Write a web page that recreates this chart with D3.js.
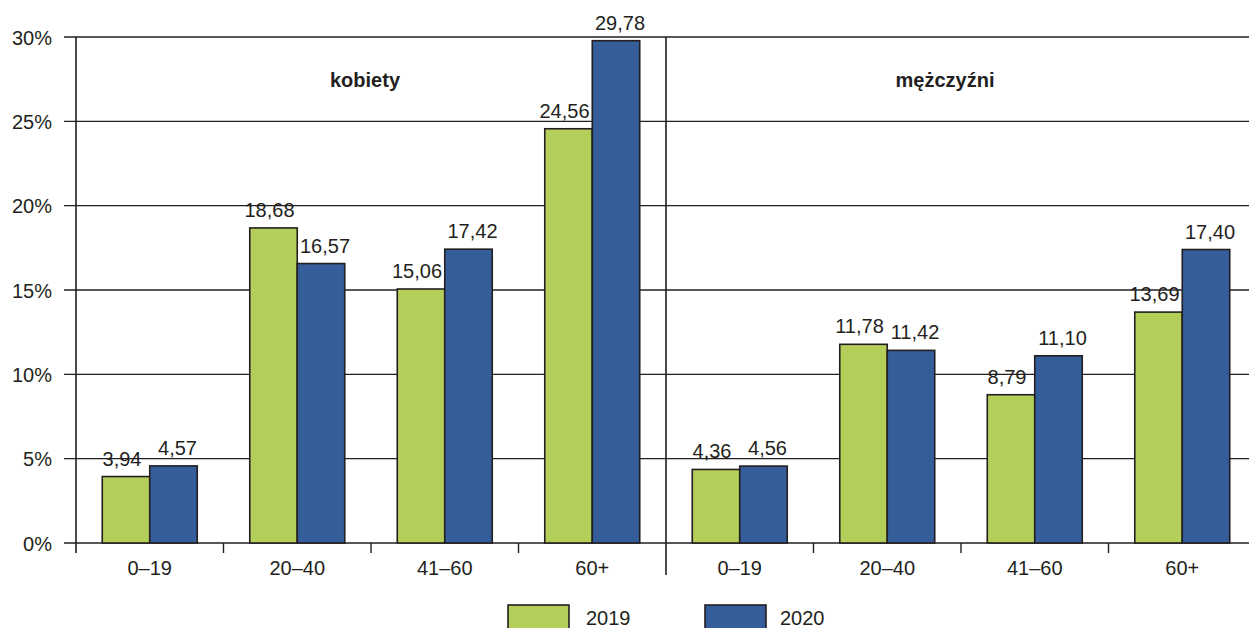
<!DOCTYPE html>
<html>
<head>
<meta charset="utf-8">
<script src="https://cdn.jsdelivr.net/npm/d3@7"></script>
<style>
  html, body { margin: 0; padding: 0; background: #fff; }
  svg { display: block; font-family: "Liberation Sans", Arial, sans-serif; }
</style>
</head>
<body>
<svg id="chart" width="1249" height="628"></svg>
<script>
// Age groups, panels and the two years shown
const categories = ["0–19", "20–40", "41–60", "60+"];
const panels = ["kobiety", "mężczyźni"];
const years = ["2019", "2020"];

// Shares in percent, per panel, in category order
const women2019 = [3.94, 18.68, 15.06, 24.56];
const women2020 = [4.57, 16.57, 17.42, 29.78];
const men2019 = [4.36, 11.78, 8.79, 13.69];
const men2020 = [4.56, 11.42, 11.10, 17.40];

const yTicks = [0, 5, 10, 15, 20, 25, 30];

const colors = { "2019": "#b4ce5a", "2020": "#345d9a" };
const ink = "#231f20";

const svg = d3.select("#chart");
const plotLeft = 76, plotRight = 1256, plotTop = 37, plotBottom = 543;

const series = {
  "kobiety": { "2019": women2019, "2020": women2020 },
  "mężczyźni": { "2019": men2019, "2020": men2020 }
};

const rows = [];
panels.forEach(p => categories.forEach((c, i) => years.forEach(yr => {
  rows.push({ panel: p, cat: c, year: yr, value: series[p][yr][i] });
})));

const xPanel = d3.scaleBand().domain(panels).range([plotLeft, plotRight]);
const xCat = d3.scaleBand().domain(categories).range([0, xPanel.bandwidth()]);
const xYear = d3.scaleBand().domain(years).range([0, xCat.bandwidth()]).paddingOuter(0.553);
const y = d3.scaleLinear().domain([0, 30]).range([plotBottom, plotTop]);

// Horizontal grid lines (also act as y ticks)
svg.append("g").selectAll("line").data(yTicks).join("line")
  .attr("x1", 64).attr("x2", 1249)
  .attr("y1", d => y(d)).attr("y2", d => y(d))
  .attr("stroke", ink).attr("stroke-width", 1.4);

// Y tick labels
svg.append("g").selectAll("text").data(yTicks).join("text")
  .attr("x", 52).attr("y", d => y(d)).attr("dy", "0.38em")
  .attr("text-anchor", "end").attr("font-size", 20).attr("fill", ink)
  .text(d => d + "%");

// Bars
svg.append("g").selectAll("rect").data(rows).join("rect")
  .attr("x", d => xPanel(d.panel) + xCat(d.cat) + xYear(d.year))
  .attr("width", xYear.bandwidth())
  .attr("y", d => y(d.value))
  .attr("height", d => y(0) - y(d.value))
  .attr("fill", d => colors[d.year])
  .attr("stroke", ink).attr("stroke-width", 1.6);

// Value labels, nudged apart so neighbouring pairs don't collide
const labelShift = { "2019": -4, "2020": 4 };
svg.append("g").selectAll("text").data(rows).join("text")
  .attr("x", d => xPanel(d.panel) + xCat(d.cat) + xYear(d.year) + xYear.bandwidth() / 2 + labelShift[d.year])
  .attr("y", d => y(d.value) - 11)
  .attr("text-anchor", "middle").attr("font-size", 20).attr("fill", ink)
  .text(d => d.value.toFixed(2).replace(".", ","));

// Y axis line
svg.append("line")
  .attr("x1", plotLeft).attr("x2", plotLeft).attr("y1", plotTop).attr("y2", plotBottom + 10)
  .attr("stroke", ink).attr("stroke-width", 1.6);

// Panel separator
svg.append("line")
  .attr("x1", xPanel(panels[1])).attr("x2", xPanel(panels[1]))
  .attr("y1", plotTop).attr("y2", plotBottom + 32)
  .attr("stroke", ink).attr("stroke-width", 1.6);

// Category ticks between slots
const tickXs = [];
panels.forEach(p => categories.forEach((c, i) => {
  if (i > 0) tickXs.push(xPanel(p) + xCat(c));
}));
svg.append("g").selectAll("line").data(tickXs).join("line")
  .attr("x1", d => d).attr("x2", d => d)
  .attr("y1", plotBottom).attr("y2", plotBottom + 10)
  .attr("stroke", ink).attr("stroke-width", 1.4);

// Category labels
const catRows = [];
panels.forEach(p => categories.forEach(c => catRows.push({ panel: p, cat: c })));
svg.append("g").selectAll("text").data(catRows).join("text")
  .attr("x", d => xPanel(d.panel) + xCat(d.cat) + xCat.bandwidth() / 2)
  .attr("y", 575)
  .attr("text-anchor", "middle").attr("font-size", 20).attr("fill", ink)
  .text(d => d.cat);

// Panel titles
const titleShift = { "kobiety": -6, "mężczyźni": -16 };
svg.append("g").selectAll("text").data(panels).join("text")
  .attr("x", d => xPanel(d) + xPanel.bandwidth() / 2 + titleShift[d])
  .attr("y", 87)
  .attr("text-anchor", "middle").attr("font-size", 20).attr("font-weight", "bold").attr("fill", ink)
  .text(d => d);

// Legend
const legend = svg.append("g").selectAll("g").data(years).join("g")
  .attr("transform", (d, i) => `translate(${508 + i * 197},605)`);
legend.append("rect")
  .attr("width", 61).attr("height", 26)
  .attr("fill", d => colors[d]).attr("stroke", ink).attr("stroke-width", 1.6);
legend.append("text")
  .attr("x", (d, i) => i === 0 ? 78 : 75)
  .attr("y", 20)
  .attr("font-size", 20).attr("fill", ink)
  .text(d => d);
</script>
</body>
</html>
